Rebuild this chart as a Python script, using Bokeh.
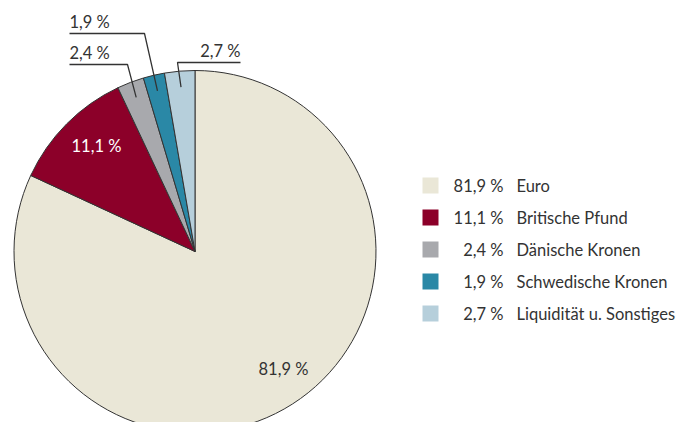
import math
from bokeh.plotting import figure
from bokeh.models import Range1d, ColumnDataSource
from bokeh.core.properties import value
from bokeh.embed import file_html
from bokeh.resources import INLINE

categories = ["Euro", "Britische Pfund", "Dänische Kronen", "Schwedische Kronen", "Liquidität u. Sonstiges"]
shares = [81.9, 11.1, 2.4, 1.9, 2.7]
colors = ["#EAE7D7", "#8C0029", "#A8A9AD", "#2A88A6", "#B6CFDB"]

def fmt(v):
    return f"{v:.1f}".replace(".", ",") + " %"

W, H = 684, 422
p = figure(width=W, height=H, output_backend="svg", toolbar_location=None,
           x_range=Range1d(0, W), y_range=Range1d(-H, 0),
           min_border=0)
p.axis.visible = False
p.grid.visible = False
p.outline_line_color = None
p.background_fill_color = "white"

FONT = value("Lato")
FS = "16.5px"
TXT = "#333333"

cx, cy, r = 194.5, -251.0, 181.0
total = sum(shares)
starts, ends, mids = [], [], []
cum = 0.0
for s in shares:
    a0 = math.pi / 2 - 2 * math.pi * cum / total
    cum += s
    a1 = math.pi / 2 - 2 * math.pi * cum / total
    starts.append(a0)
    ends.append(a1)
    mids.append((a0 + a1) / 2)

src = ColumnDataSource(dict(x=[cx] * len(shares), y=[cy] * len(shares),
                            start=starts, end=ends, color=colors))
p.wedge(x="x", y="y", radius=r, start_angle="end", end_angle="start",
        fill_color="color", line_color="#333333", line_width=1, source=src)

# inner labels
p.text(x=[283], y=[-368], text=[fmt(shares[0])], text_font=FONT, text_font_size=FS,
       text_color=TXT, text_align="center", text_baseline="middle")
p.text(x=[96], y=[-145], text=[fmt(shares[1])], text_font=FONT, text_font_size=FS,
       text_color="white", text_align="center", text_baseline="middle")

# leader lines for small slices
rin = 165.0
leaders = {
    2: dict(elbow=(127, -64), hx=69, tx=69, ty=-52, align="left"),
    3: dict(elbow=(144, -33), hx=69, tx=69, ty=-21, align="left"),
    4: dict(elbow=(177, -62), hx=240, tx=240, ty=-50, align="right"),
}
for i, d in leaders.items():
    px = cx + rin * math.cos(mids[i])
    py = cy + rin * math.sin(mids[i])
    ex, ey = d["elbow"]
    p.line([px, ex, d["hx"]], [py, ey, ey], line_color="#333333", line_width=1.3)
    p.text(x=[d["tx"]], y=[d["ty"]], text=[fmt(shares[i])], text_font=FONT,
           text_font_size=FS, text_color=TXT, text_align=d["align"],
           text_baseline="middle")

# legend
ly = [-185 - 32 * k for k in range(len(categories))]
p.rect(x=[430] * len(categories), y=ly, width=16, height=16, fill_color=colors, line_color=None)
p.text(x=[503] * len(categories), y=ly, text=[fmt(v) for v in shares], text_font=FONT,
       text_font_size=FS, text_color=TXT, text_align="right", text_baseline="middle")
p.text(x=[516] * len(categories), y=ly, text=categories, text_font=FONT,
       text_font_size=FS, text_color=TXT, text_align="left", text_baseline="middle")

open("out.html", "w").write(file_html(p, INLINE))
